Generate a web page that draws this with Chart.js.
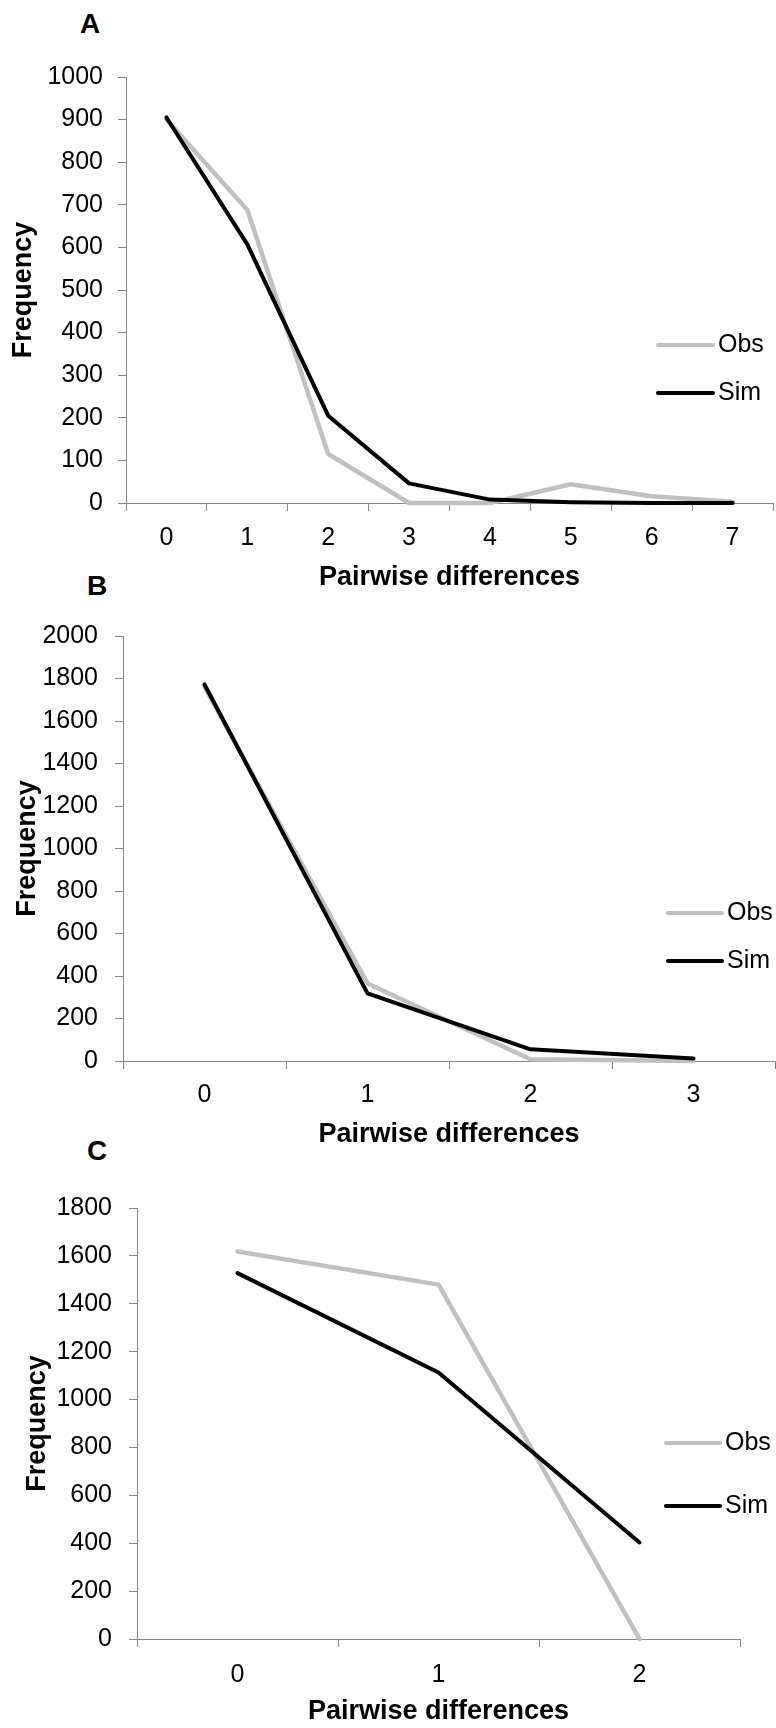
<!DOCTYPE html>
<html>
<head>
<meta charset="utf-8">
<script src="https://cdn.jsdelivr.net/npm/chart.js@4/dist/chart.umd.min.js"></script>
<style>
  html, body { margin: 0; padding: 0; background: #fff; }
  #page { position: relative; width: 776px; height: 1728px; overflow: hidden; }
  canvas { position: absolute; left: 0; }
  .letter { position: absolute; width: 40px; height: 30px; line-height: 30px; text-align: center;
            font: bold 28px "Liberation Sans", Arial, sans-serif; color: #000; }
</style>
</head>
<body>
<div id="page">
  <div class="letter" style="left:70px; top:8px;">A</div>
  <div class="letter" style="left:77px; top:570px;">B</div>
  <div class="letter" style="left:77px; top:1135px;">C</div>
  <canvas id="chartA" width="776" height="594" style="top:0px"></canvas>
  <canvas id="chartB" width="776" height="561" style="top:590px"></canvas>
  <canvas id="chartC" width="776" height="578" style="top:1150px"></canvas>
</div>
<script>
// panel A
const categoriesA = ['0', '1', '2', '3', '4', '5', '6', '7'];
const obsA = [900, 688, 115, 0, 0, 44, 16, 3];
const simA = [905, 607, 205, 46, 8, 2, 0, 0];
const yMaxA = 1000, yStepA = 100;

// panel B
const categoriesB = ['0', '1', '2', '3'];
const obsB = [1760, 365, 8, 0];
const simB = [1772, 318, 55, 12];
const yMaxB = 2000, yStepB = 200;

// panel C
const categoriesC = ['0', '1', '2'];
const obsC = [1618, 1480, 0];
const simC = [1528, 1113, 403];
const yMaxC = 1800, yStepC = 200;

const seriesNames = ['Obs', 'Sim'];

const FONT = '"Liberation Sans", Arial, sans-serif';
const axisColor = '#868686';

// legend drawn as line + label, like the excel one sitting over the plot
const lineLegend = {
  id: 'lineLegend',
  afterDraw(chart, args, opts) {
    const ctx = chart.ctx;
    ctx.save();
    chart.data.datasets.forEach((ds, i) => {
      const y = opts.y + i * opts.gap;
      ctx.strokeStyle = ds.borderColor;
      ctx.lineWidth = 4;
      ctx.lineCap = 'round';
      ctx.beginPath();
      ctx.moveTo(opts.x, y);
      ctx.lineTo(opts.x + opts.len, y);
      ctx.stroke();
      ctx.fillStyle = '#000';
      ctx.font = '25px ' + FONT;
      ctx.textAlign = 'left';
      ctx.textBaseline = 'middle';
      ctx.fillText(ds.label, opts.x + opts.len + 5, y);
    });
    ctx.restore();
  }
};

function makeChart(id, cats, obs, sim, yMax, yStep, cfg) {
  return new Chart(document.getElementById(id), {
    type: 'line',
    data: {
      labels: cats,
      datasets: [
        { label: seriesNames[0], data: obs, borderColor: '#c0c0c0', borderWidth: 4.5, order: 1 },
        { label: seriesNames[1], data: sim, borderColor: '#000000', borderWidth: 4, order: 0 }
      ]
    },
    options: {
      responsive: false,
      animation: false,
      events: [],
      layout: { padding: { top: cfg.top, right: cfg.right, left: 0, bottom: 0 } },
      elements: {
        point: { radius: 0 },
        line: { tension: 0, fill: false, borderCapStyle: 'round', borderJoinStyle: 'round' }
      },
      datasets: { line: { clip: 6 } },
      scales: {
        x: {
          offset: true,
          grid: { drawOnChartArea: false, tickLength: 8, offset: true, color: axisColor, lineWidth: 1 },
          border: { color: axisColor, width: 1 },
          ticks: { color: '#000', font: { size: 25, family: FONT }, padding: cfg.xpad, maxRotation: 0, autoSkip: false },
          title: { display: true, text: 'Pairwise differences', color: '#000',
                   font: { size: 27, weight: 'bold', family: FONT }, padding: { top: 0, bottom: 0 } },
          afterFit(s) { s.height = cfg.xh; }
        },
        y: {
          min: 0,
          max: yMax,
          grid: { drawOnChartArea: false, tickLength: 8, color: axisColor, lineWidth: 1 },
          border: { color: axisColor, width: 1 },
          ticks: { stepSize: yStep, color: '#000', font: { size: 25, family: FONT }, padding: cfg.ypad,
                   callback: v => String(v) },
          title: { display: true, text: 'Frequency', color: '#000',
                   font: { size: 27, weight: 'bold', family: FONT }, padding: { top: cfg.tpad, bottom: 0 } },
          afterFit(s) { s.width = cfg.yw; }
        }
      },
      plugins: {
        legend: { display: false },
        tooltip: { enabled: false },
        lineLegend: cfg.legend
      }
    },
    plugins: [lineLegend]
  });
}

makeChart('chartA', categoriesA, obsA, simA, yMaxA, yStepA,
  { top: 77, right: 3, yw: 126, xh: 91, xpad: 12, ypad: 15, tpad: 7,
    legend: { x: 658, y: 345, gap: 48, len: 55 } });

makeChart('chartB', categoriesB, obsB, simB, yMaxB, yStepB,
  { top: 46, right: 1, yw: 123, xh: 90, xpad: 11, ypad: 17, tpad: 11,
    legend: { x: 668, y: 323, gap: 48, len: 54 } });

makeChart('chartC', categoriesC, obsC, simC, yMaxC, yStepC,
  { top: 58, right: 36, yw: 137, xh: 89, xpad: 13, ypad: 17, tpad: 21,
    legend: { x: 666, y: 293, gap: 63, len: 54 } });
</script>
</body>
</html>
